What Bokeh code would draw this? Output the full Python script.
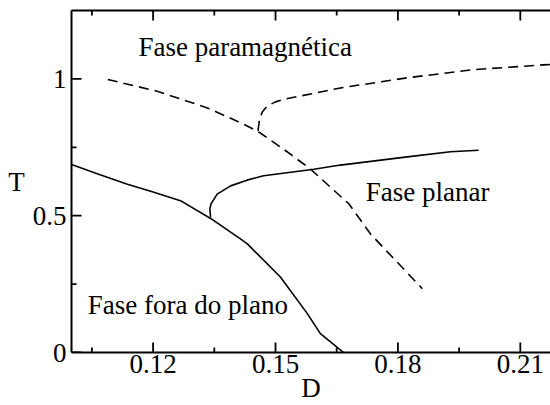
from bokeh.plotting import figure
from bokeh.models import Range1d, LinearAxis, FixedTicker, Label
from bokeh.embed import file_html
from bokeh.resources import INLINE

# Phase diagram of T versus D: boundary lines read as (D, T) pairs

# solid line: out-of-plane phase boundary
outplane_D = [0.1000, 0.1070, 0.1137, 0.1200, 0.1267, 0.1341, 0.1414, 0.1431,
              0.1512, 0.1578, 0.1610, 0.1667]
outplane_T = [0.687, 0.650, 0.615, 0.587, 0.555, 0.490, 0.415, 0.397,
              0.276, 0.142, 0.069, 0.000]

# solid line: planar phase branch
planar_D = [0.1341, 0.1339, 0.1342, 0.1357, 0.1390, 0.1430, 0.1471, 0.1594,
            0.1659, 0.1823, 0.1929, 0.1998]
planar_T = [0.494, 0.525, 0.543, 0.579, 0.609, 0.630, 0.646, 0.670,
            0.685, 0.715, 0.734, 0.739]

# dashed line descending
dash1_D = [0.1089, 0.1210, 0.1333, 0.1414, 0.1455, 0.1520, 0.1586, 0.1680,
           0.1733, 0.1860]
dash1_T = [0.998, 0.955, 0.894, 0.840, 0.810, 0.743, 0.670, 0.543,
           0.433, 0.233]

# dashed line rising toward large D
dash2_D = [0.1457, 0.1461, 0.1468, 0.1480, 0.1500, 0.1520, 0.1659, 0.1823,
           0.1986, 0.2166, 0.2200]
dash2_T = [0.810, 0.853, 0.880, 0.901, 0.916, 0.925, 0.967, 1.004,
           1.034, 1.052, 1.056]

x_major = [0.12, 0.15, 0.18, 0.21]
x_minor = [0.105, 0.135, 0.165, 0.195]
y_major = [0, 0.5, 1]
y_minor = [0.25, 0.75]

FONT = "Liberation Serif"
FS = "27px"

W, H = 550, 405
LEFT, TOP, BOTTOM = 71, 10, 53

x_range = Range1d(start=0.1, end=0.2174)
y_range = Range1d(start=0.0, end=1.25)

p = figure(width=W, height=H, output_backend="svg", toolbar_location=None,
           x_range=x_range, y_range=y_range,
           min_border_left=LEFT, min_border_right=0, min_border_top=TOP,
           min_border_bottom=BOTTOM)
p.outline_line_color = None
p.xgrid.visible = False
p.ygrid.visible = False
p.background_fill_color = "white"
p.border_fill_color = "white"


def style_axis(ax, major):
    ax.ticker = FixedTicker(ticks=major, minor_ticks=[])
    ax.axis_line_width = 2
    ax.axis_line_color = "black"
    ax.major_tick_in = 0
    ax.major_tick_out = 0
    ax.minor_tick_in = 0
    ax.minor_tick_out = 0
    ax.major_label_text_font = FONT
    ax.major_label_text_font_size = FS
    ax.major_label_text_color = "black"
    ax.axis_label_text_font = FONT
    ax.axis_label_text_font_size = FS
    ax.axis_label_text_font_style = "normal"
    ax.axis_label_text_color = "black"


xa = p.xaxis[0]
style_axis(xa, x_major)
xa.major_label_standoff = 2
xa.axis_label = "D"
xa.axis_label_standoff = -3

ya = p.yaxis[0]
style_axis(ya, y_major)
ya.major_label_standoff = 5
ya.axis_label = "T"
ya.axis_label_orientation = "horizontal"
ya.axis_label_standoff = 5

# top spine without labels
top = LinearAxis(ticker=FixedTicker(ticks=[], minor_ticks=[]))
top.axis_line_width = 2
top.axis_line_color = "black"
top.major_tick_in = 0
top.major_tick_out = 0
top.minor_tick_in = 0
top.minor_tick_out = 0
p.add_layout(top, "above")

# inward tick marks drawn as thin filled bars (10 px major, 5 px minor)
frame_w = W - LEFT
frame_h = H - TOP - BOTTOM
dx_px = (x_range.end - x_range.start) / frame_w
dy_px = (y_range.end - y_range.start) / frame_h
half_w = 0.9

xl, xr, yb, yt = [], [], [], []
for ticks, ln in [(x_major, 10), (x_minor, 5)]:
    for t in ticks:
        # bottom edge
        xl.append(t - half_w * dx_px)
        xr.append(t + half_w * dx_px)
        yb.append(y_range.start)
        yt.append(y_range.start + ln * dy_px)
        # top edge
        xl.append(t - half_w * dx_px)
        xr.append(t + half_w * dx_px)
        yb.append(y_range.end - ln * dy_px)
        yt.append(y_range.end)
for ticks, ln in [(y_major, 10), (y_minor, 5)]:
    for t in ticks:
        xl.append(x_range.start)
        xr.append(x_range.start + ln * dx_px)
        yb.append(t - half_w * dy_px)
        yt.append(t + half_w * dy_px)
p.quad(left=xl, right=xr, bottom=yb, top=yt, fill_color="black",
       line_color=None)

p.line(outplane_D, outplane_T, line_color="black", line_width=1.6)
p.line(planar_D, planar_T, line_color="black", line_width=1.6)
p.line(dash1_D, dash1_T, line_color="black", line_width=1.6, line_dash="10 6")
p.line(dash2_D, dash2_T, line_color="black", line_width=1.6, line_dash="10 6")

texts = [
    (0.1164, 1.117, "Fase paramagnética"),
    (0.1721, 0.586, "Fase planar"),
    (0.1040, 0.1725, "Fase fora do plano"),
]
for x, y, t in texts:
    p.add_layout(Label(x=x, y=y, text=t, text_font=FONT, text_font_size=FS,
                       text_color="black", text_align="left",
                       text_baseline="alphabetic"))

open("out.html", "w").write(file_html(p, INLINE))
